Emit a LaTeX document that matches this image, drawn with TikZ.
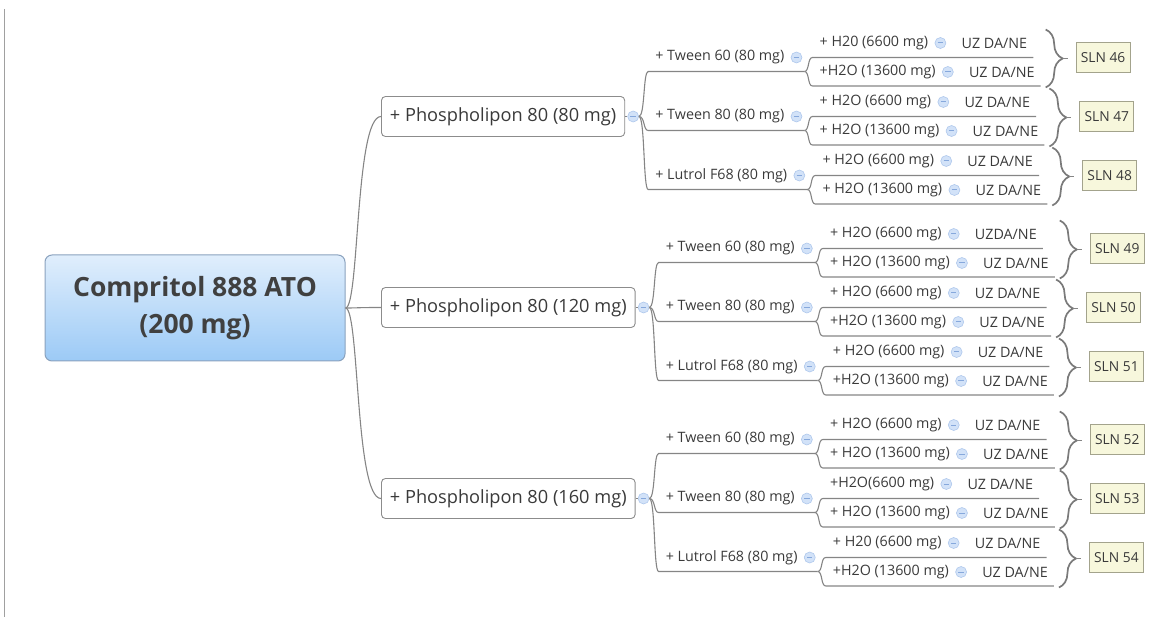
\documentclass[tikz,border=0pt]{standalone}
\usepackage{fontspec}
\setmainfont{Open Sans}
\usetikzlibrary{calc,decorations.pathreplacing}
\definecolor{txt}{HTML}{3A3A3A}
\definecolor{rootxt}{HTML}{404040}
\definecolor{linecol}{HTML}{858585}
\definecolor{boxcol}{HTML}{8C8C8C}
\definecolor{rootline}{HTML}{8AA2BE}
\definecolor{roottop}{HTML}{E0EEFC}
\definecolor{rootbot}{HTML}{9CCAF6}
\definecolor{collfill}{HTML}{D2E2F8}
\definecolor{collline}{HTML}{AFC8EC}
\definecolor{collmark}{HTML}{86A8DC}
\definecolor{slnfill}{HTML}{F7F7DC}
\definecolor{slnline}{HTML}{A3A38C}
\definecolor{bracecol}{HTML}{7A7A7A}
\definecolor{leftcol}{HTML}{A0A0A0}
\newcommand\sethtxt[3]{\expandafter\def\csname htxt#1\endcsname{#2}\expandafter\def\csname uztxt#1\endcsname{#3}}
\sethtxt{10a}{+ H20 (6600 mg)}{UZ DA/NE}
\sethtxt{10b}{+H2O (13600 mg)}{UZ DA/NE}
\sethtxt{11a}{+ H2O (6600 mg)}{UZ DA/NE}
\sethtxt{11b}{+ H2O (13600 mg)}{UZ DA/NE}
\sethtxt{12a}{+ H2O (6600 mg)}{UZ DA/NE}
\sethtxt{12b}{+ H2O (13600 mg)}{UZ DA/NE}
\sethtxt{20a}{+ H2O (6600 mg)}{UZDA/NE}
\sethtxt{20b}{+ H2O (13600 mg)}{UZ DA/NE}
\sethtxt{21a}{+ H2O (6600 mg)}{UZ DA/NE}
\sethtxt{21b}{+H2O (13600 mg)}{UZ DA/NE}
\sethtxt{22a}{+ H2O (6600 mg)}{UZ DA/NE}
\sethtxt{22b}{+H2O (13600 mg)}{UZ DA/NE}
\sethtxt{30a}{+ H2O (6600 mg)}{UZ DA/NE}
\sethtxt{30b}{+ H2O (13600 mg)}{UZ DA/NE}
\sethtxt{31a}{+H2O(6600 mg)}{UZ DA/NE}
\sethtxt{31b}{+ H2O (13600 mg)}{UZ DA/NE}
\sethtxt{32a}{+ H20 (6600 mg)}{UZ DA/NE}
\sethtxt{32b}{+H2O (13600 mg)}{UZ DA/NE}
\tikzset{
  conn/.style={draw=linecol, line width=1.1pt},
  leftline/.style={draw=leftcol, line width=1pt},
  small/.style={font=\fontsize{14.3}{17}\selectfont, text=txt, inner sep=0pt, anchor=west},
  coll/.style={circle, minimum size=11pt, inner sep=0pt, fill=collfill, draw=collline, line width=0.6pt,
    path picture={\draw[collmark, line width=1pt] ([xshift=-2.7pt]path picture bounding box.center) -- ([xshift=2.7pt]path picture bounding box.center);}},
  pbox/.style={draw=boxcol, rounded corners=4pt, fill=white, font=\fontsize{18.2}{21}\selectfont, text=txt,
    minimum height=40pt, inner xsep=8.5pt, anchor=west, line width=0.9pt},
  rootbox/.style={draw=rootline, rounded corners=7pt, top color=roottop, bottom color=rootbot,
    minimum width=300pt, minimum height=106pt, align=center, font=\fontsize{26.5}{37}\selectfont\bfseries,
    text=rootxt, line width=1pt},
  slnbox/.style={draw=slnline, fill=slnfill, minimum width=54pt, minimum height=30pt, inner sep=0pt,
    font=\fontsize{13.8}{15}\selectfont, text=txt, line width=0.9pt, anchor=west},
  bracestyle/.style={draw=bracecol, line width=1.7pt, decorate, decoration={brace, amplitude=17pt}},
}
\begin{document}
\begin{tikzpicture}[x=1pt,y=-1pt]
\useasboundingbox (0,0) rectangle (1167,617);
\draw[leftline] (4,9) -- (4,617);
\node[rootbox] (root) at (195,308) {Compritol 888 ATO\\(200 mg)};
\foreach \g/\yp/\ptxt in {1/116.5/80 mg,2/307.5/120 mg,3/498.5/160 mg}{
  \node[pbox] (p\g) at (381,\yp) {+ Phospholipon 80 (\ptxt)};
  \node[coll] (pc\g) at ([xshift=8pt]p\g.east) {};
  \draw[conn] (p\g.east) -- (pc\g.west);
  \draw[conn] (root.east) .. controls +(14,0) and +(-26,0) .. (p\g.west);
  \foreach \k/\stxt in {0/Tween 60,1/Tween 80,2/Lutrol F68}{
    \pgfmathsetmacro\ys{\yp-59+59*\k}
    \coordinate (yy) at (0,\ys);
    \path (pc\g.center |- yy) ++(22,0) node[small] (s\g\k) {+ \stxt\ (80 mg)};
    \node[coll] (sc\g\k) at ([xshift=12pt]s\g\k.east) {};
    \path (pc\g.center |- yy) ++(15,14) coordinate (sa\g\k);
    \path (sc\g\k.center) ++(8,14) coordinate (sb\g\k);
    \draw[conn] (pc\g.east) .. controls +(6,0) and +(-5,0) .. (sa\g\k) -- (sb\g\k);
    \foreach \hj/\dt/\du in {a/-14.5/0,b/14.5/28.5}{
      \path (sc\g\k.center) ++(23,\dt) node[small] (h\g\k\hj) {\csname htxt\g\k\hj\endcsname};
      \node[coll] (hc\g\k\hj) at ([xshift=12pt]h\g\k\hj.east) {};
      \path (hc\g\k\hj.center) ++(21,0) node[small] (uz\g\k\hj) {\csname uztxt\g\k\hj\endcsname};
      \path (sc\g\k.center) ++(16,\du) coordinate (ha\g\k\hj);
      \path (uz\g\k\hj.east |- ha\g\k\hj) ++(6,0) coordinate (hb\g\k\hj);
      \draw[conn] (sb\g\k) .. controls +(5,0) and +(-5,0) .. (ha\g\k\hj) -- (hb\g\k\hj);
    }
    \pgfmathtruncatemacro\sln{43+3*\g+\k}
    \path let \p1=(hb\g\k a), \p2=(hb\g\k b), \p3=(sc\g\k.center), \n1={max(\x1,\x2)+5pt} in
      coordinate (bt\g\k) at (\n1,\y3+28pt)
      coordinate (bb\g\k) at (\n1,\y3-30pt)
      coordinate (tip\g\k) at (\n1+17pt,\y3-1pt)
      coordinate (st\g\k) at (\n1+22pt,\y3-1pt)
      node[slnbox] (sln\g\k) at (\n1+30pt,\y3) {SLN \sln};
    \draw[bracestyle] (bt\g\k) -- (bb\g\k);
    \draw[conn] (tip\g\k) -- (st\g\k);
  }
}
\end{tikzpicture}
\end{document}
